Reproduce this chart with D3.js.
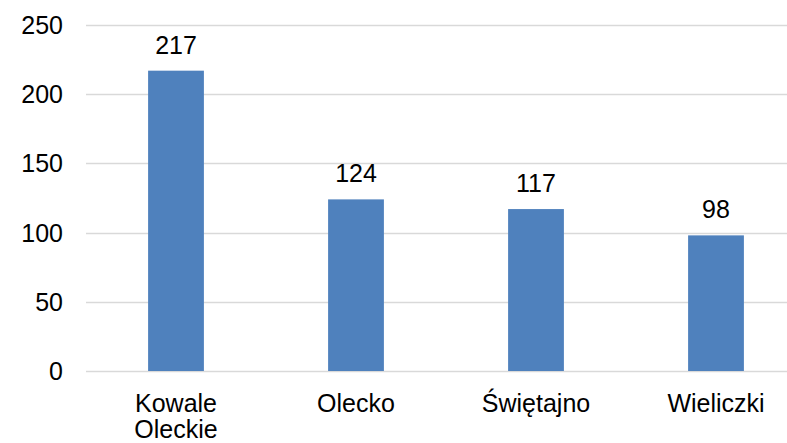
<!DOCTYPE html>
<html>
<head>
<meta charset="utf-8">
<script src="https://cdn.jsdelivr.net/npm/d3@7"></script>
<style>
  html, body { margin: 0; padding: 0; background: #fff; }
  svg { display: block; font-family: "Liberation Sans", Arial, sans-serif; }
</style>
</head>
<body>
<div id="chart"></div>
<script>
// data
var categories = [['Kowale', 'Oleckie'], ['Olecko'], ['Świętajno'], ['Wieliczki']];
var values     = [217, 124, 117, 98];
var yTicks     = [0, 50, 100, 150, 200, 250];

(function(){
    var WIDTH       = 787,
        HEIGHT      = 443,
        PLOT_LEFT   = 86,   // where gridlines start
        PLOT_RIGHT  = 806,  // band area runs past the window edge
        Y_TOP       = 25,   // pixel of 250
        Y_BOTTOM    = 371,  // pixel of 0
        FONT_SIZE   = 25,
        BAR_COLOR   = '#4f81bd',
        GRID_COLOR  = '#d9d9d9';

    var svg = d3.select('#chart').append('svg')
        .attr('width', WIDTH)
        .attr('height', HEIGHT);

    var keys = categories.map(function(c){ return c.join(' '); });

    var x = d3.scaleBand()
        .domain(keys)
        .range([PLOT_LEFT, PLOT_RIGHT])
        .paddingInner(0.69)
        .paddingOuter(0.345);

    var y = d3.scaleLinear()
        .domain([0, 250])
        .range([Y_BOTTOM, Y_TOP]);

    // gridlines
    svg.append('g').selectAll('line')
        .data(yTicks)
        .enter().append('line')
        .attr('x1', PLOT_LEFT)
        .attr('x2', WIDTH)
        .attr('y1', function(d){ return Math.round(y(d)) + 0.5; })
        .attr('y2', function(d){ return Math.round(y(d)) + 0.5; })
        .attr('stroke', GRID_COLOR)
        .attr('stroke-width', 1.5);

    // y tick labels
    svg.append('g').selectAll('text')
        .data(yTicks)
        .enter().append('text')
        .attr('x', 63)
        .attr('y', function(d){ return y(d) + 9; })
        .attr('text-anchor', 'end')
        .attr('font-size', FONT_SIZE)
        .attr('fill', '#000')
        .text(function(d){ return d; });

    // bars
    svg.append('g').selectAll('rect')
        .data(values)
        .enter().append('rect')
        .attr('x', function(d, i){ return x(keys[i]); })
        .attr('y', function(d){ return y(d); })
        .attr('width', x.bandwidth())
        .attr('height', function(d){ return y(0) - y(d); })
        .attr('fill', BAR_COLOR);

    // value labels
    svg.append('g').selectAll('text')
        .data(values)
        .enter().append('text')
        .attr('x', function(d, i){ return x(keys[i]) + x.bandwidth() / 2; })
        .attr('y', function(d){ return y(d) - 17; })
        .attr('text-anchor', 'middle')
        .attr('font-size', FONT_SIZE)
        .attr('fill', '#000')
        .text(function(d){ return d; });

    // category labels (may wrap on two lines)
    var cat = svg.append('g').selectAll('text')
        .data(categories)
        .enter().append('text')
        .attr('x', function(d, i){ return x(keys[i]) + x.bandwidth() / 2; })
        .attr('y', 412)
        .attr('text-anchor', 'middle')
        .attr('font-size', FONT_SIZE)
        .attr('fill', '#000');

    cat.selectAll('tspan')
        .data(function(d){ return d; })
        .enter().append('tspan')
        .attr('x', function(){ return d3.select(this.parentNode).attr('x'); })
        .attr('dy', function(d, i){ return i === 0 ? 0 : 26; })
        .text(function(d){ return d; });
})();
</script>
</body>
</html>
